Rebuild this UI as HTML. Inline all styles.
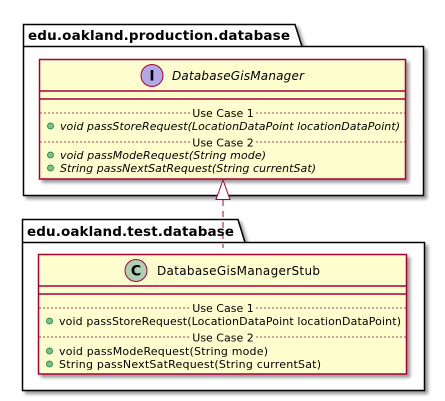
<!DOCTYPE html>
<html><head><meta charset="utf-8"><style>html,body{margin:0;padding:0;background:#fff}svg{display:block}</style></head><body>
<svg width="445" height="401" viewBox="0 0 445 401" xmlns="http://www.w3.org/2000/svg" font-family="DejaVu Sans, Liberation Sans, sans-serif">
<defs><filter id="sh" x="-5%" y="-5%" width="115%" height="115%"><feGaussianBlur in="SourceAlpha" stdDeviation="1.6"/><feOffset dx="3" dy="3"/><feComponentTransfer><feFuncA type="linear" slope="0.4"/></feComponentTransfer><feMerge><feMergeNode/><feMergeNode in="SourceGraphic"/></feMerge></filter></defs>
<!-- package 1 -->
<g filter="url(#sh)">
<path d="M23.5,46.5 L23.5,24.5 L295,24.5 L302,46.5 L423.5,46.5 L423.5,195.5 L23.5,195.5 Z" fill="#fff" stroke="#000" stroke-width="1.5"/>
</g>
<line x1="23.5" y1="46.5" x2="302" y2="46.5" stroke="#000" stroke-width="1.5"/>
<text x="28" y="40" font-size="13.5" font-weight="bold" textLength="262">edu.oakland.production.database</text>
<!-- class 1 -->
<rect x="39.5" y="59.5" width="366" height="119.5" fill="#FEFECE" stroke="#A80036" stroke-width="1.5" filter="url(#sh)"/>
<line x1="39.5" y1="91" x2="405.5" y2="91" stroke="#A80036" stroke-width="1.5"/>
<line x1="39.5" y1="99" x2="405.5" y2="99" stroke="#A80036" stroke-width="1.5"/>
<circle cx="152" cy="75.5" r="11" fill="#B4A7E5" stroke="#A80036"/>
<text x="152" y="80.5" font-size="14" font-weight="bold" text-anchor="middle">I</text>
<text x="172" y="80" font-size="12" font-style="italic" textLength="132">DatabaseGisManager</text>
<line x1="40" y1="113" x2="190" y2="113" stroke="#A80036" stroke-dasharray="2,2" stroke-width="0.8"/>
<line x1="256" y1="113" x2="405" y2="113" stroke="#A80036" stroke-dasharray="2,2" stroke-width="0.8"/>
<text x="223" y="117" font-size="11" text-anchor="middle">Use Case 1</text>
<circle cx="50.5" cy="126" r="3" fill="#84BE84" stroke="#038048" stroke-width="0.8"/>
<text x="60" y="130" font-size="11" font-style="italic" textLength="340">void passStoreRequest(LocationDataPoint locationDataPoint)</text>
<line x1="40" y1="142" x2="190" y2="142" stroke="#A80036" stroke-dasharray="2,2" stroke-width="0.8"/>
<line x1="256" y1="142" x2="405" y2="142" stroke="#A80036" stroke-dasharray="2,2" stroke-width="0.8"/>
<text x="223" y="146.5" font-size="11" text-anchor="middle">Use Case 2</text>
<circle cx="50.5" cy="155" r="3" fill="#84BE84" stroke="#038048" stroke-width="0.8"/>
<text x="60" y="159" font-size="11" font-style="italic" textLength="206">void passModeRequest(String mode)</text>
<circle cx="50.5" cy="168" r="3" fill="#84BE84" stroke="#038048" stroke-width="0.8"/>
<text x="60" y="172" font-size="11" font-style="italic" textLength="256">String passNextSatRequest(String currentSat)</text>
<!-- package 2 -->
<g filter="url(#sh)">
<path d="M22.5,242.5 L22.5,219.5 L238,219.5 L245,242.5 L424.5,242.5 L424.5,390.5 L22.5,390.5 Z" fill="#fff" stroke="#000" stroke-width="1.5"/>
</g>
<line x1="22.5" y1="242.5" x2="245" y2="242.5" stroke="#000" stroke-width="1.5"/>
<text x="27" y="236" font-size="13.5" font-weight="bold" textLength="207">edu.oakland.test.database</text>
<!-- connector -->
<line x1="223" y1="200" x2="223" y2="248" stroke="#A80036" stroke-dasharray="6,5"/>
<polygon points="223,180 216,199.5 230,199.5" fill="#fff" stroke="#A80036" stroke-width="1"/>
<!-- class 2 -->
<rect x="38.5" y="254.5" width="368" height="119.5" fill="#FEFECE" stroke="#A80036" stroke-width="1.5" filter="url(#sh)"/>
<line x1="38.5" y1="286" x2="406.5" y2="286" stroke="#A80036" stroke-width="1.5"/>
<line x1="38.5" y1="294" x2="406.5" y2="294" stroke="#A80036" stroke-width="1.5"/>
<circle cx="136" cy="270.5" r="11" fill="#ADD1B2" stroke="#A80036"/>
<text x="136" y="275.5" font-size="14" font-weight="bold" text-anchor="middle">C</text>
<text x="157" y="275" font-size="12" textLength="163">DatabaseGisManagerStub</text>
<line x1="39" y1="308" x2="190" y2="308" stroke="#A80036" stroke-dasharray="2,2" stroke-width="0.8"/>
<line x1="256" y1="308" x2="406" y2="308" stroke="#A80036" stroke-dasharray="2,2" stroke-width="0.8"/>
<text x="223" y="312" font-size="11" text-anchor="middle">Use Case 1</text>
<circle cx="49.5" cy="321" r="3" fill="#84BE84" stroke="#038048" stroke-width="0.8"/>
<text x="59" y="325" font-size="11" textLength="342">void passStoreRequest(LocationDataPoint locationDataPoint)</text>
<line x1="39" y1="337" x2="190" y2="337" stroke="#A80036" stroke-dasharray="2,2" stroke-width="0.8"/>
<line x1="256" y1="337" x2="406" y2="337" stroke="#A80036" stroke-dasharray="2,2" stroke-width="0.8"/>
<text x="223" y="341.5" font-size="11" text-anchor="middle">Use Case 2</text>
<circle cx="49.5" cy="351" r="3" fill="#84BE84" stroke="#038048" stroke-width="0.8"/>
<text x="59" y="355" font-size="11" textLength="209">void passModeRequest(String mode)</text>
<circle cx="49.5" cy="364" r="3" fill="#84BE84" stroke="#038048" stroke-width="0.8"/>
<text x="59" y="368" font-size="11" textLength="262">String passNextSatRequest(String currentSat)</text>
</svg>
</body></html>
